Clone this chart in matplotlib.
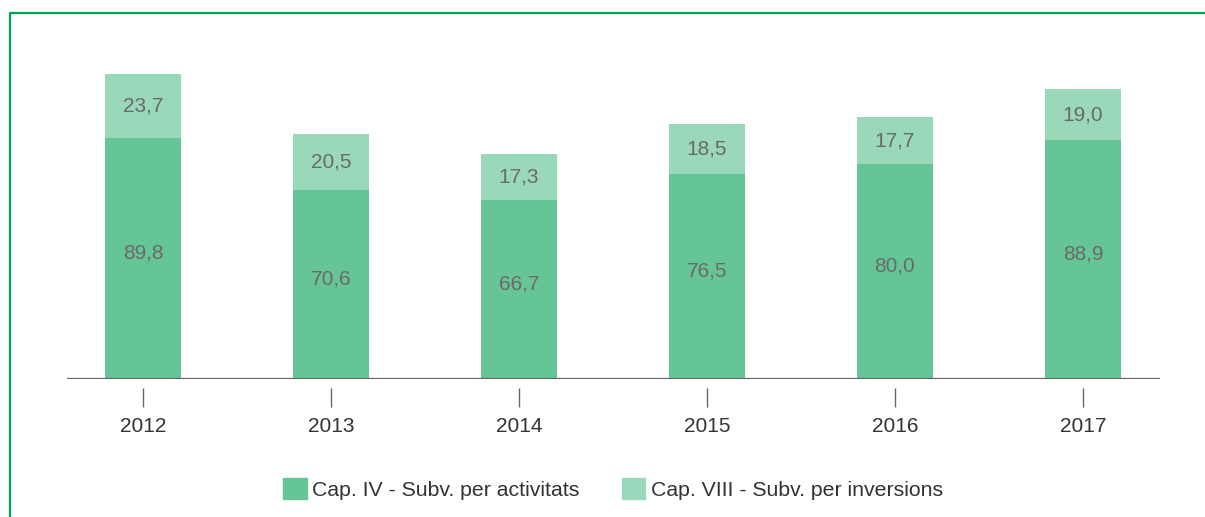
import matplotlib
matplotlib.use("Agg")
import matplotlib.pyplot as plt
from matplotlib.patches import Patch
from matplotlib.lines import Line2D
import numpy as np

plt.rcParams['font.family'] = ['Liberation Sans', 'DejaVu Sans']

years = ['2012', '2013', '2014', '2015', '2016', '2017']
cap4 = [89.8, 70.6, 66.7, 76.5, 80.0, 88.9]
cap8 = [23.7, 20.5, 17.3, 18.5, 17.7, 19.0]
labels = ['Cap. IV - Subv. per activitats', 'Cap. VIII - Subv. per inversions']

dark = '#66c596'
light = '#9ad8ba'
frame_green = '#00a651'

W, H = 1205, 517
fig = plt.figure(figsize=(W / 100, H / 100), dpi=100)
ax = fig.add_axes([67 / W, (H - 379) / H, (1160 - 67) / W, (379 - 40) / H])

x = np.arange(len(years))
w = 0.404
ax.bar(x, cap4, width=w, color=dark)
ax.bar(x, cap8, width=w, bottom=cap4, color=light)

def fmt(v):
    return f'{v:.1f}'.replace('.', ',')

for i in range(len(years)):
    ax.text(x[i], cap4[i] / 2 + 2, fmt(cap4[i]), ha='center', va='center',
            fontsize=15, color='#6a6a6a')
    ax.text(x[i], cap4[i] + cap8[i] / 2, fmt(cap8[i]), ha='center', va='center',
            fontsize=15, color='#6a6a6a')

ax.set_xlim(-0.404, 5.41)
ax.set_ylim(0, 126.3)
ax.axhline(0, color='#666666', lw=1.6)

for s in ['top', 'right', 'left']:
    ax.spines[s].set_visible(False)
ax.spines['bottom'].set_position(('outward', 6.5))
ax.spines['bottom'].set_visible(False)
ax.set_yticks([])
ax.set_xticks(x)
ax.set_xticklabels(years)
ax.tick_params(axis='x', direction='out', length=14, width=1, color='#666666',
               pad=7, labelsize=15, labelcolor='#333333')

handles = [Patch(color=dark), Patch(color=light)]
fig.legend(handles, labels, loc='center', bbox_to_anchor=(613 / W, 1 - 489 / H),
           ncol=2, frameon=False, fontsize=15.3, labelcolor='#333333',
           handlelength=1.1, handleheight=1.1, handletextpad=0.25,
           columnspacing=2.0, borderpad=0)

# green frame (top and left)
fx = 9.5 / W
fy = 1 - 12.5 / H
fig.add_artist(Line2D([fx, fx, 1], [0, fy, fy], color=frame_green, lw=1.6,
                      transform=fig.transFigure))

fig.savefig('out.png', dpi=100)
